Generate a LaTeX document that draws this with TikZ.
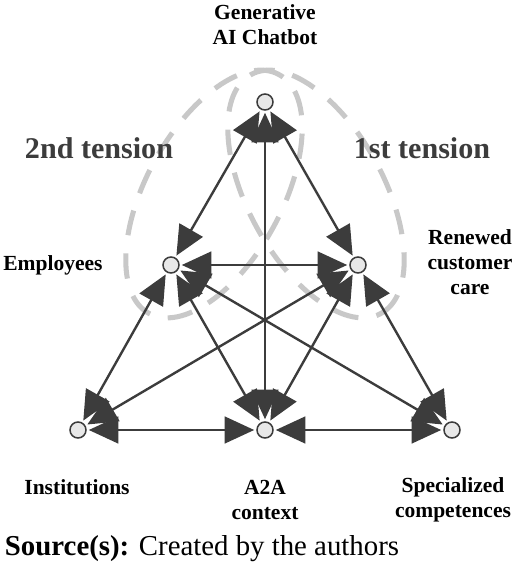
\documentclass[tikz,border=0pt]{standalone}
\usepackage{fontspec}
\setmainfont{Liberation Serif}
\usetikzlibrary{arrows.meta}
\definecolor{linkgray}{RGB}{60,60,60}
\definecolor{tensiongray}{RGB}{200,200,200}
\definecolor{dotfill}{RGB}{232,232,232}

\begin{document}
\begin{tikzpicture}[x=0.025cm, y=0.025cm,
    dot/.style={circle, draw=linkgray, fill=dotfill, line width=1.1pt,
      minimum size=0.4cm, inner sep=0pt, outer sep=2pt},
    lbl/.style={font=\fontsize{15.3}{17.8}\selectfont\bfseries, align=center},
    tensiontext/.style={font=\fontsize{21.4}{24}\selectfont\bfseries, text=linkgray},
    link/.style={linkgray, line width=1.7pt,
      {Triangle[length=21pt,width=19pt]}-{Triangle[length=21pt,width=19pt]}},
    ring/.style={tensiongray, line width=3.6pt, dash pattern=on 18pt off 13pt}]
    \useasboundingbox (0,0) rectangle (520,567);

    \draw[ring, rotate around={61.5:(214,373)}] (214,373) ellipse [x radius=136, y radius=68];
    \draw[ring, rotate around={-61.5:(316,373)}] (316,373) ellipse [x radius=136, y radius=68];

    \node[dot] (gai) at (265,465) {};
    \node[dot] (emp) at (171,302) {};
    \node[dot] (care) at (358,302) {};
    \node[dot] (inst) at (78,137) {};
    \node[dot] (ctx) at (265,137) {};
    \node[dot] (comp) at (452,137) {};

    \node[lbl] (gaitext) at (265,542) {Generative\\AI Chatbot};
    \node[lbl] (emptext) at (53,302) {Employees};
    \node[lbl] (caretext) at (470,305) {Renewed\\customer\\care};
    \node[lbl] (insttext) at (77,80) {Institutions};
    \node[lbl] (ctxtext) at (265,67) {A2A\\context};
    \node[lbl] (comptext) at (453,67) {Specialized\\competences};
    \node[tensiontext] (second) at (99,419) {2nd tension};
    \node[tensiontext] (first) at (422,419) {1st tension};
    \node[anchor=west, font=\fontsize{20.5}{24}\selectfont] (source) at (0,18)
      {\textbf{Source(s):} Created by the authors};

    \draw[link] (gai) -- (emp);
    \draw[link] (gai) -- (care);
    \draw[link] (gai) -- (ctx);
    \draw[link] (emp) -- (care);
    \draw[link] (emp) -- (inst);
    \draw[link] (emp) -- (ctx);
    \draw[link] (emp) -- (comp);
    \draw[link] (care) -- (inst);
    \draw[link] (care) -- (ctx);
    \draw[link] (care) -- (comp);
    \draw[link] (inst) -- (ctx);
    \draw[link] (ctx) -- (comp);
  \end{tikzpicture}
\end{document}
